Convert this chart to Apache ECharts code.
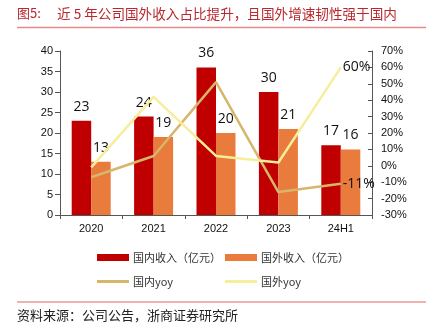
<!DOCTYPE html>
<html>
<head>
<meta charset="utf-8">
<script src="https://cdn.jsdelivr.net/npm/echarts@6/dist/echarts.min.js"></script>
<style>
  html, body { margin: 0; padding: 0; background: #fff; }
  #chart { width: 433px; height: 335px; }
</style>
</head>
<body>
<div id="chart"></div>
<script>
// Categories and series
const categories = ['2020', '2021', '2022', '2023', '24H1'];
const domesticRevenue = [23, 24, 36, 30, 17];      // 国内收入（亿元）
const foreignRevenue = [13, 19, 20, 21, 16];       // 国外收入（亿元）
const domesticYoy = [-7, 6, 51, -16, -11];         // 国内yoy (%)
const foreignYoy = [-1, 42, 6, 2, 60];             // 国外yoy (%)

const leftTicks = { min: 0, max: 40, interval: 5 };
const rightTicks = { min: -30, max: 70, interval: 10 };

const cjk = '"Noto Sans CJK SC", sans-serif';
const latin = '"Liberation Sans", Arial, sans-serif';
const labelFont = '"Open Sans", "Liberation Sans", sans-serif';

const chart = echarts.init(document.getElementById('chart'), null, { renderer: 'canvas' });

function legendItem(name, left, top, h) {
  return {
    data: [name], left: left, top: top, orient: 'horizontal',
    icon: 'rect', itemWidth: 32, itemHeight: h, itemGap: 0,
    padding: 0, selectedMode: false,
    textStyle: { fontFamily: cjk, fontSize: 11, color: '#333', padding: [0, 0, 0, -1] }
  };
}

// Only the last point of each yoy line carries a value label
function lastPointLabel(values) {
  return values.map((v, i) => i === values.length - 1
    ? { value: v, label: { show: true } }
    : v);
}

const yoyLabel = {
  show: false, position: 'right', distance: 2, color: '#111',
  fontFamily: labelFont, fontSize: 14, formatter: '{c}%'
};

chart.setOption({
  animation: false,
  backgroundColor: '#fff',
  grid: { left: 60, right: 61, top: 51, bottom: 120, containLabel: false },
  graphic: [
    { type: 'text', left: 17, top: 7,
      style: { text: '图5:', font: '13px ' + cjk, fill: '#B8282E' } },
    { type: 'text', left: 57, top: 7,
      style: { text: '近 5 年公司国外收入占比提升，且国外增速韧性强于国内', font: '13.6px ' + cjk, fill: '#B8282E' } },
    { type: 'line', shape: { x1: 17, y1: 27.5, x2: 426, y2: 27.5 },
      style: { stroke: '#E58A8A', lineWidth: 1.5 } },
    { type: 'line', shape: { x1: 17, y1: 302, x2: 426, y2: 302 },
      style: { stroke: '#E06666', lineWidth: 1.2 } },
    { type: 'text', left: 17, top: 309,
      style: { text: '资料来源：公司公告，浙商证券研究所', font: '13px ' + cjk, fill: '#222' } }
  ],
  legend: [
    legendItem('国内收入（亿元）', 97, 252, 7),
    legendItem('国外收入（亿元）', 225, 252, 7),
    legendItem('国内yoy', 97, 276, 3),
    legendItem('国外yoy', 225, 276, 3)
  ],
  xAxis: {
    type: 'category', data: categories,
    axisLine: { lineStyle: { color: '#555', width: 1 } },
    axisTick: { show: true, length: 4, lineStyle: { color: '#555' } },
    axisLabel: { color: '#111', fontFamily: latin, fontSize: 11, margin: 8 }
  },
  yAxis: [
    {
      type: 'value', min: leftTicks.min, max: leftTicks.max, interval: leftTicks.interval,
      splitLine: { show: false },
      axisLine: { show: true, lineStyle: { color: '#555' } },
      axisTick: { show: true, length: 5, lineStyle: { color: '#555' } },
      axisLabel: { color: '#111', fontFamily: latin, fontSize: 11, margin: 7 }
    },
    {
      type: 'value', min: rightTicks.min, max: rightTicks.max, interval: rightTicks.interval,
      position: 'right',
      splitLine: { show: false },
      axisLine: { show: true, lineStyle: { color: '#555' } },
      axisTick: { show: true, inside: true, length: 4, lineStyle: { color: '#555' } },
      axisLabel: { color: '#111', fontFamily: latin, fontSize: 11, margin: 9, formatter: '{value}%' }
    }
  ],
  series: [
    {
      name: '国内收入（亿元）', type: 'bar', data: domesticRevenue,
      barWidth: 19.5, barGap: '0%',
      itemStyle: { color: '#C00000' },
      label: { show: true, position: 'top', distance: 7, color: '#111', fontFamily: labelFont, fontSize: 14 }
    },
    {
      name: '国外收入（亿元）', type: 'bar', data: foreignRevenue,
      barWidth: 19.5, barGap: '0%',
      itemStyle: { color: '#E97B3C' },
      label: { show: true, position: 'top', distance: 7, color: '#111', fontFamily: labelFont, fontSize: 14 }
    },
    {
      name: '国内yoy', type: 'line', yAxisIndex: 1, data: lastPointLabel(domesticYoy),
      symbol: 'circle', symbolSize: 0, showSymbol: true,
      lineStyle: { color: '#D6B66B', width: 2.5 }, itemStyle: { color: '#D6B66B' },
      label: yoyLabel
    },
    {
      name: '国外yoy', type: 'line', yAxisIndex: 1, data: lastPointLabel(foreignYoy),
      symbol: 'circle', symbolSize: 0, showSymbol: true,
      lineStyle: { color: '#F7EE9C', width: 2.5 }, itemStyle: { color: '#F7EE9C' },
      label: yoyLabel
    }
  ]
});
</script>
</body>
</html>
